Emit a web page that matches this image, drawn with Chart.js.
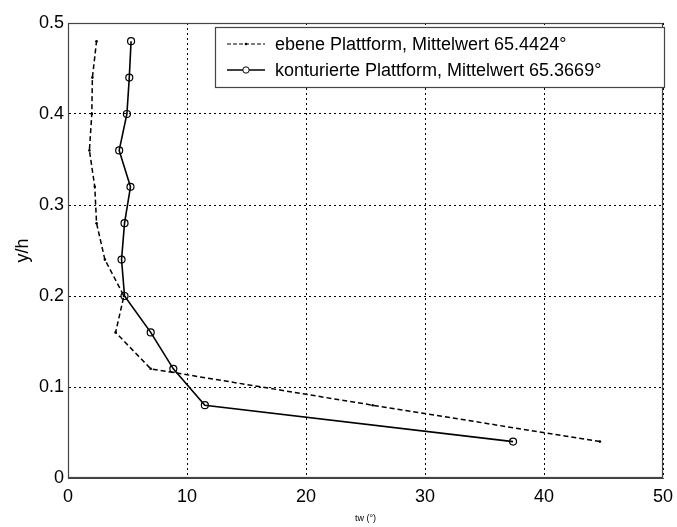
<!DOCTYPE html>
<html>
<head>
<meta charset="utf-8">
<script src="https://cdn.jsdelivr.net/npm/chart.js@4/dist/chart.umd.min.js"></script>
<style>
  html, body { margin: 0; padding: 0; background: #fff; }
  #wrap { width: 677px; height: 527px; }
</style>
</head>
<body>
<div id="wrap"><canvas id="grafico" width="677" height="527"></canvas></div>
<script>
// y/h Positionen (gemeinsam)
const yPos = [0.04, 0.08, 0.12, 0.16, 0.20, 0.24, 0.28, 0.32, 0.36, 0.40, 0.44, 0.48];
// tw-Werte
const ebene = [44.7, 25.6, 6.95, 4.0, 4.7, 3.1, 2.4, 2.25, 1.8, 2.0, 2.05, 2.4];
const konturiert = [37.4, 11.5, 8.85, 6.95, 4.75, 4.5, 4.75, 5.25, 4.3, 4.95, 5.15, 5.3];
const labels = [
    'ebene Plattform, Mittelwert 65.4424°',
    'konturierte Plattform, Mittelwert 65.3669°'
];
const xTicks = [0, 10, 20, 30, 40, 50];
const yTicks = [0, 0.1, 0.2, 0.3, 0.4, 0.5];

const fontName = '"Liberation Sans", Arial, sans-serif';

function punkte(xs) {
    return xs.map((x, i) => ({ x: x, y: yPos[i] }));
}

// Rahmen um die Zeichenfläche + Legende im Diagramm
const rahmenPlugin = {
    id: 'rahmen',
    afterDatasetsDraw(chart) {
        const ctx = chart.ctx;
        const a = chart.chartArea;
        ctx.save();
        ctx.strokeStyle = '#444';
        ctx.lineWidth = 1.2;
        ctx.setLineDash([]);
        ctx.strokeRect(a.left + 0.5, a.top + 0.5, a.right - a.left - 1, a.bottom - a.top - 1);

        // Legende
        const bx = 215, by = 27, bw = 449, bh = 60;
        ctx.fillStyle = '#fff';
        ctx.fillRect(bx, by, bw, bh);
        ctx.strokeStyle = '#444';
        ctx.strokeRect(bx + 0.5, by + 0.5, bw, bh);

        ctx.font = '18px ' + fontName;
        ctx.fillStyle = '#000';
        ctx.strokeStyle = '#000';
        ctx.textBaseline = 'middle';
        const zeilen = [by + 17, by + 43];
        // Linie 1 (gestrichelt)
        ctx.lineWidth = 1.2;
        ctx.setLineDash([4, 2]);
        ctx.beginPath();
        ctx.moveTo(bx + 12, zeilen[0]);
        ctx.lineTo(bx + 50, zeilen[0]);
        ctx.stroke();
        ctx.setLineDash([]);
        ctx.beginPath();
        ctx.arc(bx + 31, zeilen[0], 1.3, 0, Math.PI * 2);
        ctx.fill();
        // Linie 2 (durchgezogen mit Kreis)
        ctx.lineWidth = 1.5;
        ctx.beginPath();
        ctx.moveTo(bx + 12, zeilen[1]);
        ctx.lineTo(bx + 50, zeilen[1]);
        ctx.stroke();
        ctx.beginPath();
        ctx.arc(bx + 31, zeilen[1], 3.2, 0, Math.PI * 2);
        ctx.fillStyle = '#fff';
        ctx.fill();
        ctx.lineWidth = 1;
        ctx.stroke();
        ctx.fillStyle = '#000';
        ctx.fillText(labels[0], bx + 60, zeilen[0] + 1);
        ctx.fillText(labels[1], bx + 60, zeilen[1] + 1);
        ctx.restore();
    }
};

const ctx = document.getElementById('grafico').getContext('2d');
const grafico = new Chart(ctx, {
    type: 'scatter',
    data: {
        datasets: [{
            label: labels[0],
            data: punkte(ebene),
            showLine: true,
            borderColor: '#000',
            backgroundColor: '#000',
            borderWidth: 1.5,
            borderDash: [5, 3],
            pointRadius: 1.3,
            pointBorderWidth: 0,
            pointBackgroundColor: '#000'
        }, {
            label: labels[1],
            data: punkte(konturiert),
            showLine: true,
            borderColor: '#000',
            backgroundColor: '#000',
            borderWidth: 1.6,
            pointRadius: 3.5,
            pointBorderWidth: 1.2,
            pointBorderColor: '#000',
            pointBackgroundColor: 'rgba(255,255,255,0)'
        }]
    },
    options: {
        responsive: false,
        animation: false,
        layout: { padding: { top: 23, right: 14, left: 0, bottom: 0 } },
        plugins: {
            legend: { display: false },
            tooltip: { enabled: false }
        },
        scales: {
            x: {
                type: 'linear',
                min: 0,
                max: 50,
                afterBuildTicks: (s) => { s.ticks = xTicks.map(v => ({ value: v })); },
                afterFit: (s) => { s.height = 49; s.paddingLeft = 0; s.paddingRight = 0; },
                ticks: {
                    color: '#000',
                    font: { family: fontName, size: 18 },
                    padding: 8,
                    maxRotation: 0
                },
                grid: {
                    color: '#000',
                    lineWidth: 1,
                    drawTicks: false,
                    tickLength: 0
                },
                border: { display: true, color: '#444', dash: [2, 3] },
                title: {
                    display: true,
                    text: 'tw (°)',
                    color: '#000',
                    font: { family: fontName, size: 9 },
                    padding: { top: 0, bottom: 3 }
                }
            },
            y: {
                type: 'linear',
                min: 0,
                max: 0.5,
                afterBuildTicks: (s) => { s.ticks = yTicks.map(v => ({ value: v })); },
                afterFit: (s) => { s.width = 68; s.paddingTop = 0; s.paddingBottom = 0; },
                ticks: {
                    color: '#000',
                    font: { family: fontName, size: 18 },
                    padding: 4,
                    callback: (v) => String(v)
                },
                grid: {
                    color: '#000',
                    lineWidth: 1,
                    drawTicks: false,
                    tickLength: 0
                },
                border: { display: true, color: '#444', dash: [2, 3] },
                title: {
                    display: true,
                    text: 'y/h',
                    color: '#000',
                    font: { family: fontName, size: 18 },
                    padding: { top: 12, bottom: 0 }
                }
            }
        }
    },
    plugins: [rahmenPlugin]
});
</script>
</body>
</html>
